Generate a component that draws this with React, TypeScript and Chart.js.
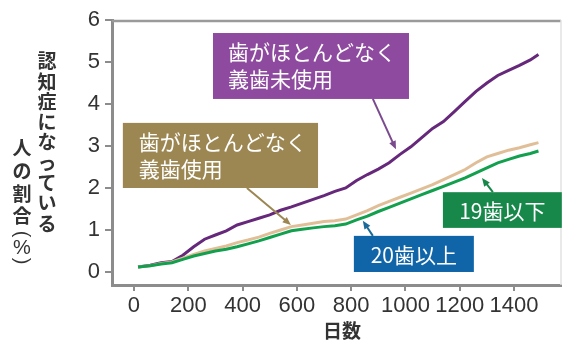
import React, { useEffect, useRef } from "react";
import { Chart, registerables } from "chart.js";

Chart.register(...registerables);

const days = [15, 60, 100, 140, 180, 220, 260, 300, 340, 380, 420, 460, 500, 540, 580, 620, 660, 700, 740, 780, 820, 860, 900, 940, 980, 1020, 1060, 1100, 1140, 1180, 1220, 1260, 1300, 1340, 1380, 1420, 1460, 1490];
const noDentureValues = [0.12, 0.16, 0.22, 0.25, 0.4, 0.6, 0.78, 0.88, 0.98, 1.12, 1.2, 1.28, 1.36, 1.47, 1.55, 1.64, 1.73, 1.82, 1.92, 2.0, 2.18, 2.32, 2.45, 2.6, 2.8, 2.98, 3.2, 3.42, 3.58, 3.82, 4.06, 4.3, 4.5, 4.68, 4.8, 4.92, 5.05, 5.18];
const dentureValues = [0.12, 0.15, 0.2, 0.24, 0.33, 0.42, 0.5, 0.56, 0.62, 0.7, 0.76, 0.83, 0.92, 1.0, 1.08, 1.12, 1.16, 1.2, 1.22, 1.26, 1.36, 1.46, 1.58, 1.68, 1.78, 1.88, 1.98, 2.08, 2.2, 2.32, 2.44, 2.6, 2.74, 2.82, 2.9, 2.96, 3.03, 3.08];
const teethValues = [0.12, 0.15, 0.19, 0.22, 0.3, 0.38, 0.44, 0.5, 0.54, 0.6, 0.67, 0.74, 0.82, 0.9, 0.98, 1.02, 1.05, 1.08, 1.1, 1.14, 1.24, 1.33, 1.44, 1.54, 1.64, 1.74, 1.84, 1.94, 2.04, 2.14, 2.24, 2.36, 2.48, 2.6, 2.68, 2.76, 2.82, 2.88];
const xTicks = [0, 200, 400, 600, 800, 1000, 1200, 1400];
const yTicks = [0, 1, 2, 3, 4, 5, 6];
const seriesNames = ["歯がほとんどなく義歯未使用", "歯がほとんどなく義歯使用", "19歯以下"];

const JP = '"Noto Sans CJK JP", "Noto Sans", sans-serif';
const NUM = '"Liberation Sans Narrow", "Liberation Sans", Arial, sans-serif';
const AXIS = "#8c8c8c";
const TEXT = "#333333";

type Box = {
  lines: string[];
  fill: string;
  x0: number; x1: number; y0: number; y1: number;
  textX?: number;
  arrow: [number, number, number, number];
  arrowColor: string;
};

const boxes: Box[] = [
  { lines: ["歯がほとんどなく", "義歯未使用"], fill: "#8e4a9f", x0: 291, x1: 1013, y0: 5.69, y1: 4.12, textX: 346, arrow: [880, 4.12, 965, 2.92], arrowColor: "#7a4a8e" },
  { lines: ["歯がほとんどなく", "義歯使用"], fill: "#9c8652", x0: -41, x1: 678, y0: 3.55, y1: 2.0, textX: 18, arrow: [416, 2.0, 578, 1.12], arrowColor: "#9c8652" },
  { lines: ["20歯以上"], fill: "#1064a8", x0: 810, x1: 1252, y0: 0.86, y1: 0.0, arrow: [880, 0.86, 843, 1.22], arrowColor: "#1a6a9a" },
  { lines: ["19歯以下"], fill: "#17884a", x0: 1138, x1: 1576, y0: 1.9, y1: 1.05, arrow: [1322, 1.9, 1282, 2.24], arrowColor: "#17884a" },
];

function drawArrow(ctx: CanvasRenderingContext2D, x1: number, y1: number, x2: number, y2: number, color: string) {
  const ang = Math.atan2(y2 - y1, x2 - x1);
  const head = 9;
  ctx.save();
  ctx.strokeStyle = color;
  ctx.fillStyle = color;
  ctx.lineWidth = 2;
  ctx.beginPath();
  ctx.moveTo(x1, y1);
  ctx.lineTo(x2 - Math.cos(ang) * head * 0.8, y2 - Math.sin(ang) * head * 0.8);
  ctx.stroke();
  ctx.beginPath();
  ctx.moveTo(x2, y2);
  ctx.lineTo(x2 - head * Math.cos(ang - 0.4), y2 - head * Math.sin(ang - 0.4));
  ctx.lineTo(x2 - head * Math.cos(ang + 0.4), y2 - head * Math.sin(ang + 0.4));
  ctx.closePath();
  ctx.fill();
  ctx.restore();
}

function rotatedChar(ctx: CanvasRenderingContext2D, ch: string, x: number, y: number) {
  ctx.save();
  ctx.translate(x, y);
  ctx.rotate(Math.PI / 2);
  ctx.fillText(ch, 0, 0);
  ctx.restore();
}

const decorPlugin = {
  id: "decor",
  afterDatasetsDraw(chart: any) {
    const ctx: CanvasRenderingContext2D = chart.ctx;
    const xs = chart.scales.x;
    const ys = chart.scales.y;
    const { left, right, top } = chart.chartArea;
    ctx.save();
    ctx.strokeStyle = "#9a9a9a";
    ctx.lineWidth = 2.5;
    ctx.beginPath();
    ctx.moveTo(left, top + 1);
    ctx.lineTo(right, top + 1);
    ctx.stroke();
    ctx.strokeStyle = "#e2e2e2";
    ctx.lineWidth = 1.5;
    ctx.beginPath();
    ctx.moveTo(right, top);
    ctx.lineTo(right, chart.chartArea.bottom);
    ctx.stroke();

    for (const b of boxes) {
      const px0 = xs.getPixelForValue(b.x0);
      const px1 = xs.getPixelForValue(b.x1);
      const py0 = ys.getPixelForValue(b.y0);
      const py1 = ys.getPixelForValue(b.y1);
      ctx.fillStyle = b.fill;
      ctx.fillRect(px0, py0, px1 - px0, py1 - py0);
      ctx.fillStyle = "#ffffff";
      ctx.font = `21px ${JP}`;
      ctx.textBaseline = "middle";
      const h = py1 - py0;
      const n = b.lines.length;
      const lh = 27;
      const startY = py0 + h / 2 - ((n - 1) * lh) / 2;
      b.lines.forEach((ln, i) => {
        if (b.textX !== undefined) {
          ctx.textAlign = "left";
          ctx.fillText(ln, xs.getPixelForValue(b.textX), startY + i * lh);
        } else {
          ctx.textAlign = "center";
          ctx.fillText(ln, (px0 + px1) / 2, startY + i * lh + 1);
        }
      });
      const [ax1, ay1, ax2, ay2] = b.arrow;
      drawArrow(ctx, xs.getPixelForValue(ax1), ys.getPixelForValue(ay1), xs.getPixelForValue(ax2), ys.getPixelForValue(ay2), b.arrowColor);
    }

    // y axis title (vertical)
    ctx.fillStyle = TEXT;
    ctx.font = `bold 19px ${JP}`;
    ctx.textAlign = "center";
    ctx.textBaseline = "middle";
    const col1 = "認知症になっている";
    Array.from(col1).forEach((c, i) => ctx.fillText(c, 47, 61 + i * 20.3));
    const col2 = ["人", "の", "割", "合"];
    col2.forEach((c, i) => ctx.fillText(c, 22, 148 + i * 22.7));
    ctx.font = `20px ${NUM}`;
    rotatedChar(ctx, "(", 22, 234);
    ctx.fillText("%", 22, 248);
    rotatedChar(ctx, ")", 22, 261);

    // x axis title
    ctx.font = `bold 19px ${JP}`;
    ctx.fillText("日数", 342, 331);
    ctx.restore();
  },
};

export default function App() {
  const ref = useRef<HTMLCanvasElement>(null);
  useEffect(() => {
    if (!ref.current) return;
    const mk = (vals: number[]) => days.map((d, i) => ({ x: d, y: vals[i] }));
    const chart = new Chart(ref.current, {
      type: "line",
      data: {
        datasets: [
          { label: seriesNames[2], data: mk(teethValues), borderColor: "#12a04e", borderWidth: 3, pointRadius: 0, tension: 0 },
          { label: seriesNames[1], data: mk(dentureValues), borderColor: "#e0bf98", borderWidth: 3, pointRadius: 0, tension: 0 },
          { label: seriesNames[0], data: mk(noDentureValues), borderColor: "#66287a", borderWidth: 3, pointRadius: 0, tension: 0 },
        ],
      },
      options: {
        animation: false,
        responsive: false,
        devicePixelRatio: 1,
        layout: { padding: { top: 20, right: 5, left: 0, bottom: 0 } },
        plugins: { legend: { display: false }, tooltip: { enabled: false }, title: { display: false } },
        scales: {
          x: {
            type: "linear",
            min: -81,
            max: 1573,
            afterBuildTicks: (s: any) => { s.ticks = xTicks.map((v) => ({ value: v })); },
            afterFit: (s: any) => { s.height = 55; },
            ticks: { color: TEXT, font: { family: NUM, size: 22 }, padding: 2, maxRotation: 0, autoSkip: false, callback: (v: any) => String(v) },
            grid: { drawOnChartArea: false, drawTicks: true, tickLength: 6, color: AXIS, lineWidth: 2 },
            border: { display: true, color: AXIS, width: 3 },
          },
          y: {
            type: "linear",
            min: -0.31,
            max: 6,
            afterBuildTicks: (s: any) => { s.ticks = yTicks.map((v) => ({ value: v })); },
            afterFit: (s: any) => { s.width = 112; },
            ticks: { color: TEXT, font: { family: NUM, size: 22 }, padding: 5, callback: (v: any) => String(v) },
            grid: { drawOnChartArea: false, drawTicks: true, tickLength: 7, color: AXIS, lineWidth: 2 },
            border: { display: true, color: AXIS, width: 3 },
          },
        },
      },
      plugins: [decorPlugin],
    });
    return () => chart.destroy();
  }, []);
  return (
    <div style={{ position: "fixed", left: 0, top: 0, width: 566, height: 340, background: "#ffffff" }}>
      <canvas ref={ref} width={566} height={340} />
    </div>
  );
}
